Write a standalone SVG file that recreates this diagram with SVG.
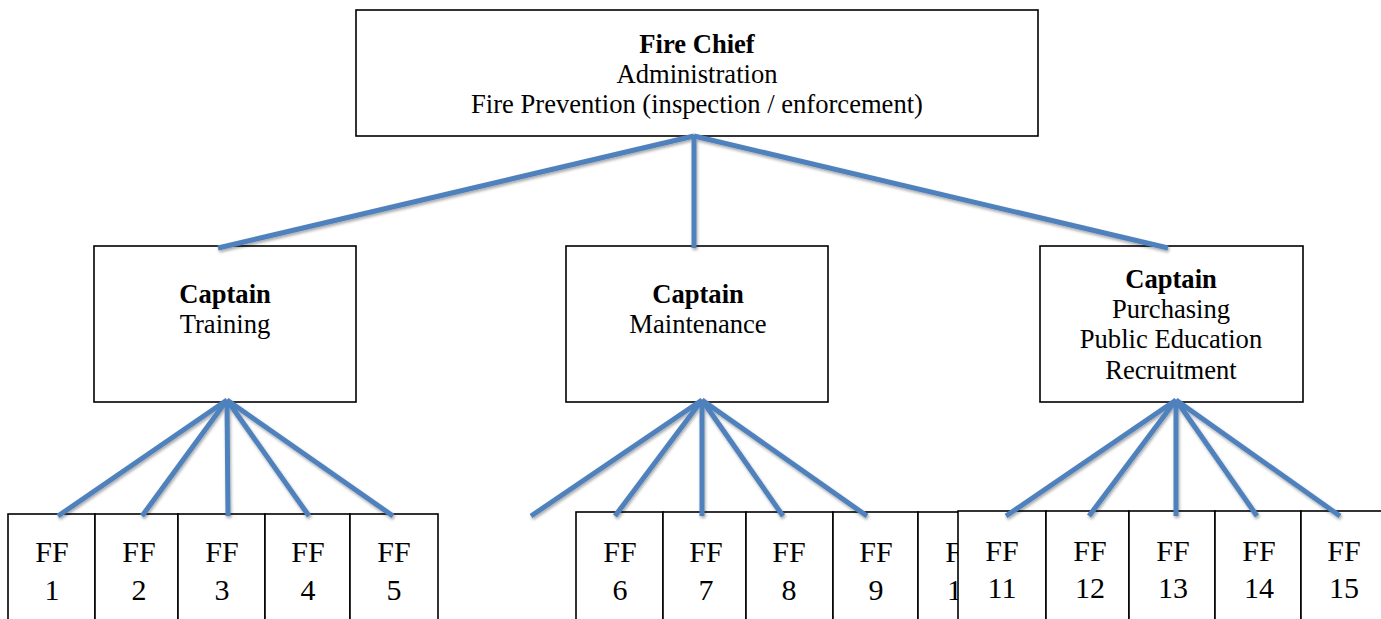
<svg xmlns="http://www.w3.org/2000/svg" width="1381" height="619" viewBox="0 0 1381 619">
<defs>
<style>
.box{fill:#fff;stroke:#000;stroke-width:1.6}
.t{font-family:"Liberation Serif","Times New Roman",serif;font-size:26.6px;fill:#000;text-anchor:middle}
.b{font-weight:bold}
.ff{font-family:"Liberation Serif","Times New Roman",serif;font-size:30px;fill:#000;text-anchor:middle}
.c{stroke:#4F81BD;stroke-width:5;fill:none;stroke-linecap:butt}
</style>
<filter id="sh" x="-10%" y="-10%" width="120%" height="130%">
<feDropShadow dx="1" dy="2" stdDeviation="1.5" flood-color="#000" flood-opacity="0.35"/>
</filter>
</defs>
<rect width="1381" height="619" fill="#fff"/>
<g id="chief">
<rect class="box" x="356" y="10" width="682" height="126"/>
<text class="t b" x="697" y="53">Fire Chief</text>
<text class="t" x="697" y="83">Administration</text>
<text class="t" x="697" y="113">Fire Prevention (inspection / enforcement)</text>
</g>
<g id="captain-training">
<rect class="box" x="94" y="246" width="262" height="156"/>
<text class="t b" x="225" y="303">Captain</text>
<text class="t" x="225" y="333">Training</text>
</g>
<g id="captain-maintenance">
<rect class="box" x="566" y="246" width="262" height="156"/>
<text class="t b" x="698" y="303">Captain</text>
<text class="t" x="698" y="333">Maintenance</text>
</g>
<g id="captain-purchasing">
<rect class="box" x="1040" y="246" width="263" height="156"/>
<text class="t b" x="1171" y="288">Captain</text>
<text class="t" x="1171" y="318">Purchasing</text>
<text class="t" x="1171" y="348">Public Education</text>
<text class="t" x="1171" y="379">Recruitment</text>
</g>
<g id="ff1"><rect class="box" x="8" y="514" width="87" height="120"/><text class="ff" x="52" y="562">FF</text><text class="ff" x="52" y="600">1</text></g>
<g id="ff2"><rect class="box" x="95" y="514" width="83" height="120"/><text class="ff" x="139" y="562">FF</text><text class="ff" x="139" y="600">2</text></g>
<g id="ff3"><rect class="box" x="178" y="514" width="87" height="120"/><text class="ff" x="222" y="562">FF</text><text class="ff" x="222" y="600">3</text></g>
<g id="ff4"><rect class="box" x="265" y="514" width="85" height="120"/><text class="ff" x="308" y="562">FF</text><text class="ff" x="308" y="600">4</text></g>
<g id="ff5"><rect class="box" x="350" y="514" width="88" height="120"/><text class="ff" x="394" y="562">FF</text><text class="ff" x="394" y="600">5</text></g>
<g id="ff6"><rect class="box" x="576" y="512" width="87" height="120"/><text class="ff" x="620" y="562">FF</text><text class="ff" x="620" y="600">6</text></g>
<g id="ff7"><rect class="box" x="663" y="512" width="83" height="120"/><text class="ff" x="706" y="562">FF</text><text class="ff" x="706" y="600">7</text></g>
<g id="ff8"><rect class="box" x="746" y="512" width="87" height="120"/><text class="ff" x="789" y="562">FF</text><text class="ff" x="789" y="600">8</text></g>
<g id="ff9"><rect class="box" x="833" y="512" width="85" height="120"/><text class="ff" x="876" y="562">FF</text><text class="ff" x="876" y="600">9</text></g>
<g id="ff10"><rect class="box" x="918" y="512" width="88" height="120"/><text class="ff" x="962" y="562">FF</text><text class="ff" x="962" y="600">10</text></g>
<g id="ff11"><rect class="box" x="958" y="511" width="88" height="120"/><text class="ff" x="1002" y="561">FF</text><text class="ff" x="1002" y="598">11</text></g>
<g id="ff12"><rect class="box" x="1046" y="511" width="83" height="120"/><text class="ff" x="1090" y="561">FF</text><text class="ff" x="1090" y="598">12</text></g>
<g id="ff13"><rect class="box" x="1129" y="511" width="86" height="120"/><text class="ff" x="1173" y="561">FF</text><text class="ff" x="1173" y="598">13</text></g>
<g id="ff14"><rect class="box" x="1215" y="511" width="86" height="120"/><text class="ff" x="1259" y="561">FF</text><text class="ff" x="1259" y="598">14</text></g>
<g id="ff15"><rect class="box" x="1301" y="511" width="88" height="120"/><text class="ff" x="1344" y="561">FF</text><text class="ff" x="1344" y="598">15</text></g>
<g id="connectors" class="c" filter="url(#sh)">
<line class="c" x1="694" y1="136" x2="218" y2="248"/>
<line class="c" x1="694" y1="136" x2="694" y2="248"/>
<line class="c" x1="694" y1="136" x2="1168" y2="248"/>
<line class="c" x1="227" y1="400" x2="58" y2="516"/>
<line class="c" x1="227" y1="400" x2="142" y2="516"/>
<line class="c" x1="227" y1="400" x2="228" y2="516"/>
<line class="c" x1="227" y1="400" x2="309" y2="516"/>
<line class="c" x1="227" y1="400" x2="393" y2="516"/>
<line class="c" x1="702" y1="400" x2="531" y2="516"/>
<line class="c" x1="702" y1="400" x2="615" y2="516"/>
<line class="c" x1="702" y1="400" x2="702" y2="516"/>
<line class="c" x1="702" y1="400" x2="783" y2="516"/>
<line class="c" x1="702" y1="400" x2="867" y2="516"/>
<line class="c" x1="1176" y1="400" x2="1006" y2="516"/>
<line class="c" x1="1176" y1="400" x2="1089" y2="516"/>
<line class="c" x1="1176" y1="400" x2="1176" y2="516"/>
<line class="c" x1="1176" y1="400" x2="1257" y2="516"/>
<line class="c" x1="1176" y1="400" x2="1340" y2="516"/>
</g>
</svg>
